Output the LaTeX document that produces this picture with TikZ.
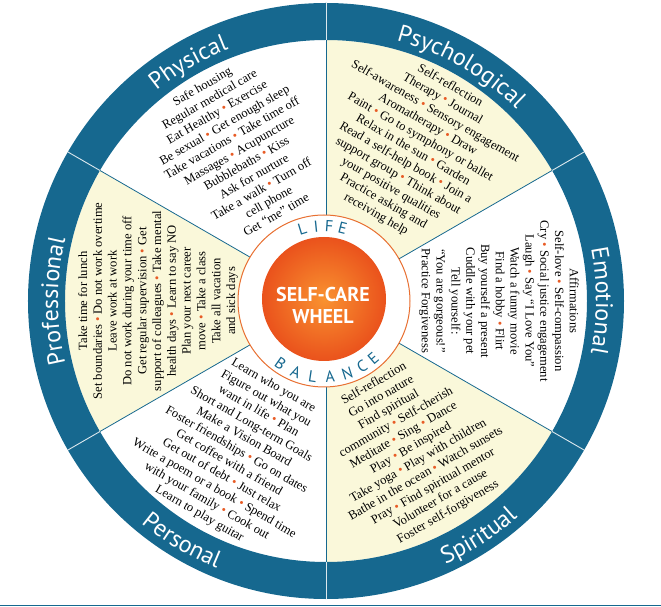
\documentclass[tikz,border=0pt]{standalone}
\usepackage{fontspec}
\setmainfont{Liberation Serif}
\newfontfamily\labelfont{PT Sans}
\usepackage{tikz}
\usetikzlibrary{decorations.text}
\definecolor{ringblue}{RGB}{22,104,143}
\definecolor{cream}{RGB}{250,248,218}
\definecolor{dotorange}{RGB}{232,92,38}
\definecolor{hubedge}{RGB}{232,112,50}
\definecolor{hubin}{RGB}{249,146,48}
\definecolor{hubout}{RGB}{234,82,28}
\newcommand{\bul}{{\color{dotorange}\textbullet}\space}

\begin{document}
\begin{tikzpicture}[x=1pt,y=1pt,
  sectortext/.style={align=center,inner sep=0pt,font=\fontsize{12.6}{14.8}\selectfont},
  ringlabel/.style={decorate,decoration={text along path,text align=center,text color=white,
    text={|\labelfont\fontsize{24}{24}\selectfont|#1}}},
  hubletter/.style={text=ringblue,inner sep=0pt,font=\labelfont\fontsize{16}{16}\selectfont}]
 \useasboundingbox (-326,-306) rectangle (335,301);
 % shaded wedges
 \foreach \a in {30,150,270}
  \fill[cream] (0,0) -- (\a:261) arc[start angle=\a,end angle=\a+60,radius=261] -- cycle;
 % outer ring
 \fill[ringblue,even odd rule] (0,0) circle[radius=298] (0,0) circle[radius=261];
 \foreach \a in {30,90,...,330} {
  \draw[ringblue,line width=0.8pt] (\a:80) -- (\a:261);
  \draw[white!85!ringblue,line width=0.9pt] (\a:261) -- (\a:298);
 }
 \draw[ringblue,line width=1.6pt] (-326,-304.5) -- (335,-304.5);
 % hub
 \begin{scope}[shift={(-2,0)}]
  \draw[hubedge,line width=1pt,fill=white] (0,0) circle[radius=86];
  \shade[inner color=hubin,outer color=hubout] (0,2) circle[radius=62];
  \node[white,align=center,font=\labelfont\bfseries\fontsize{20}{22}\selectfont] (hub) at (-1,-4) {SELF-CARE\\WHEEL};
  \foreach \ch/\ang in {L/107,I/96,F/86,E/75.5}
   \node[hubletter,rotate=\ang-90] at (\ang:75) {\ch};
  \foreach \ch/\ang in {B/-125,A/-111.8,L/-98.6,A/-85.4,N/-72.2,C/-60,E/-49.5}
   \node[hubletter,rotate=\ang+90] at (\ang:76) {\ch};
 \end{scope}
 % ring labels
 \path[ringlabel=Physical] (150:270) arc[start angle=150,end angle=90,radius=270];
 \path[ringlabel=Psychological] (90:270) arc[start angle=90,end angle=30,radius=270];
 \path[ringlabel=Emotional] (30:270) arc[start angle=30,end angle=-30,radius=270];
 \path[ringlabel=Professional] (210:268) arc[start angle=210,end angle=150,radius=268];
 \path[ringlabel=Spiritual] (-87:289) arc[start angle=-87,end angle=-27,radius=289];
 \path[ringlabel=Personal] (-151:289) arc[start angle=-151,end angle=-91,radius=289];
 % wedge texts
 \node[sectortext,rotate=30] (physical) at (120:174) {Safe housing\\Regular medical care\\
  Eat Healthy \bul Exercise\\Be sexual \bul Get enough sleep\\Take vacations \bul Take time off\\
  Massages \bul Acupuncture\\Bubblebaths \bul Kiss\\Ask for nurture\\Take a walk \bul Turn off\\
  cell phone\\Get ``me'' time};
 \node[sectortext,rotate=-30] (psychological) at (60:174) {Self-reflection\\Therapy \bul Journal\\
  Self-awareness \bul Sensory engagement\\Aromatherapy \bul Draw\\Paint \bul Go to symphony or ballet\\
  Relax in the sun \bul Garden\\Read a self-help book \bul Join a\\support group \bul Think about\\
  your positive qualities\\Practice asking and\\receiving help};
 \node[sectortext,rotate=-90] (emotional) at (0:173) {Affirmations\\Self-love \bul Self-compassion\\
  Cry \bul Social justice engagement\\Laugh \bul Say ``I Love You''\\Watch a funny movie\\
  Find a hobby \bul Flirt\\Buy yourself a present\\Cuddle with your pet\\Tell yourself:\\
  ``You are gorgeous!''\\Practice Forgiveness};
 \node[sectortext,rotate=30] (spiritual) at (-60:170) {Self-reflection\\Go into nature\\Find spiritual\\
  community \bul Self-cherish\\Meditate \bul Sing \bul Dance\\Play \bul Be inspired\\
  Take yoga \bul Play with children\\Bathe in the ocean \bul Watch sunsets\\
  Pray \bul Find spiritual mentor\\Volunteer for a cause\\Foster self-forgiveness};
 \node[sectortext,rotate=-30] (personal) at (-121:174) {Learn who you are\\Figure out what you\\
  want in life \bul Plan\\Short and Long-term Goals\\Make a Vision Board\\
  Foster friendships \bul Go on dates\\Get coffee with a friend\\Get out of debt \bul Just relax\\
  Write a poem or a book \bul Spend time\\with your family \bul Cook out\\Learn to play guitar};
 \node[sectortext,rotate=90] (professional) at (180:168) {Take time for lunch\\
  Set boundaries \bul Do not work overtime\\Leave work at work\\Do not work during your time off\\
  Get regular supervision \bul Get\\support of colleagues \bul Take mental\\
  health days \bul Learn to say NO\\Plan your next career\\move \bul Take a class\\
  Take all vacation\\and sick days};
\end{tikzpicture}
\end{document}
